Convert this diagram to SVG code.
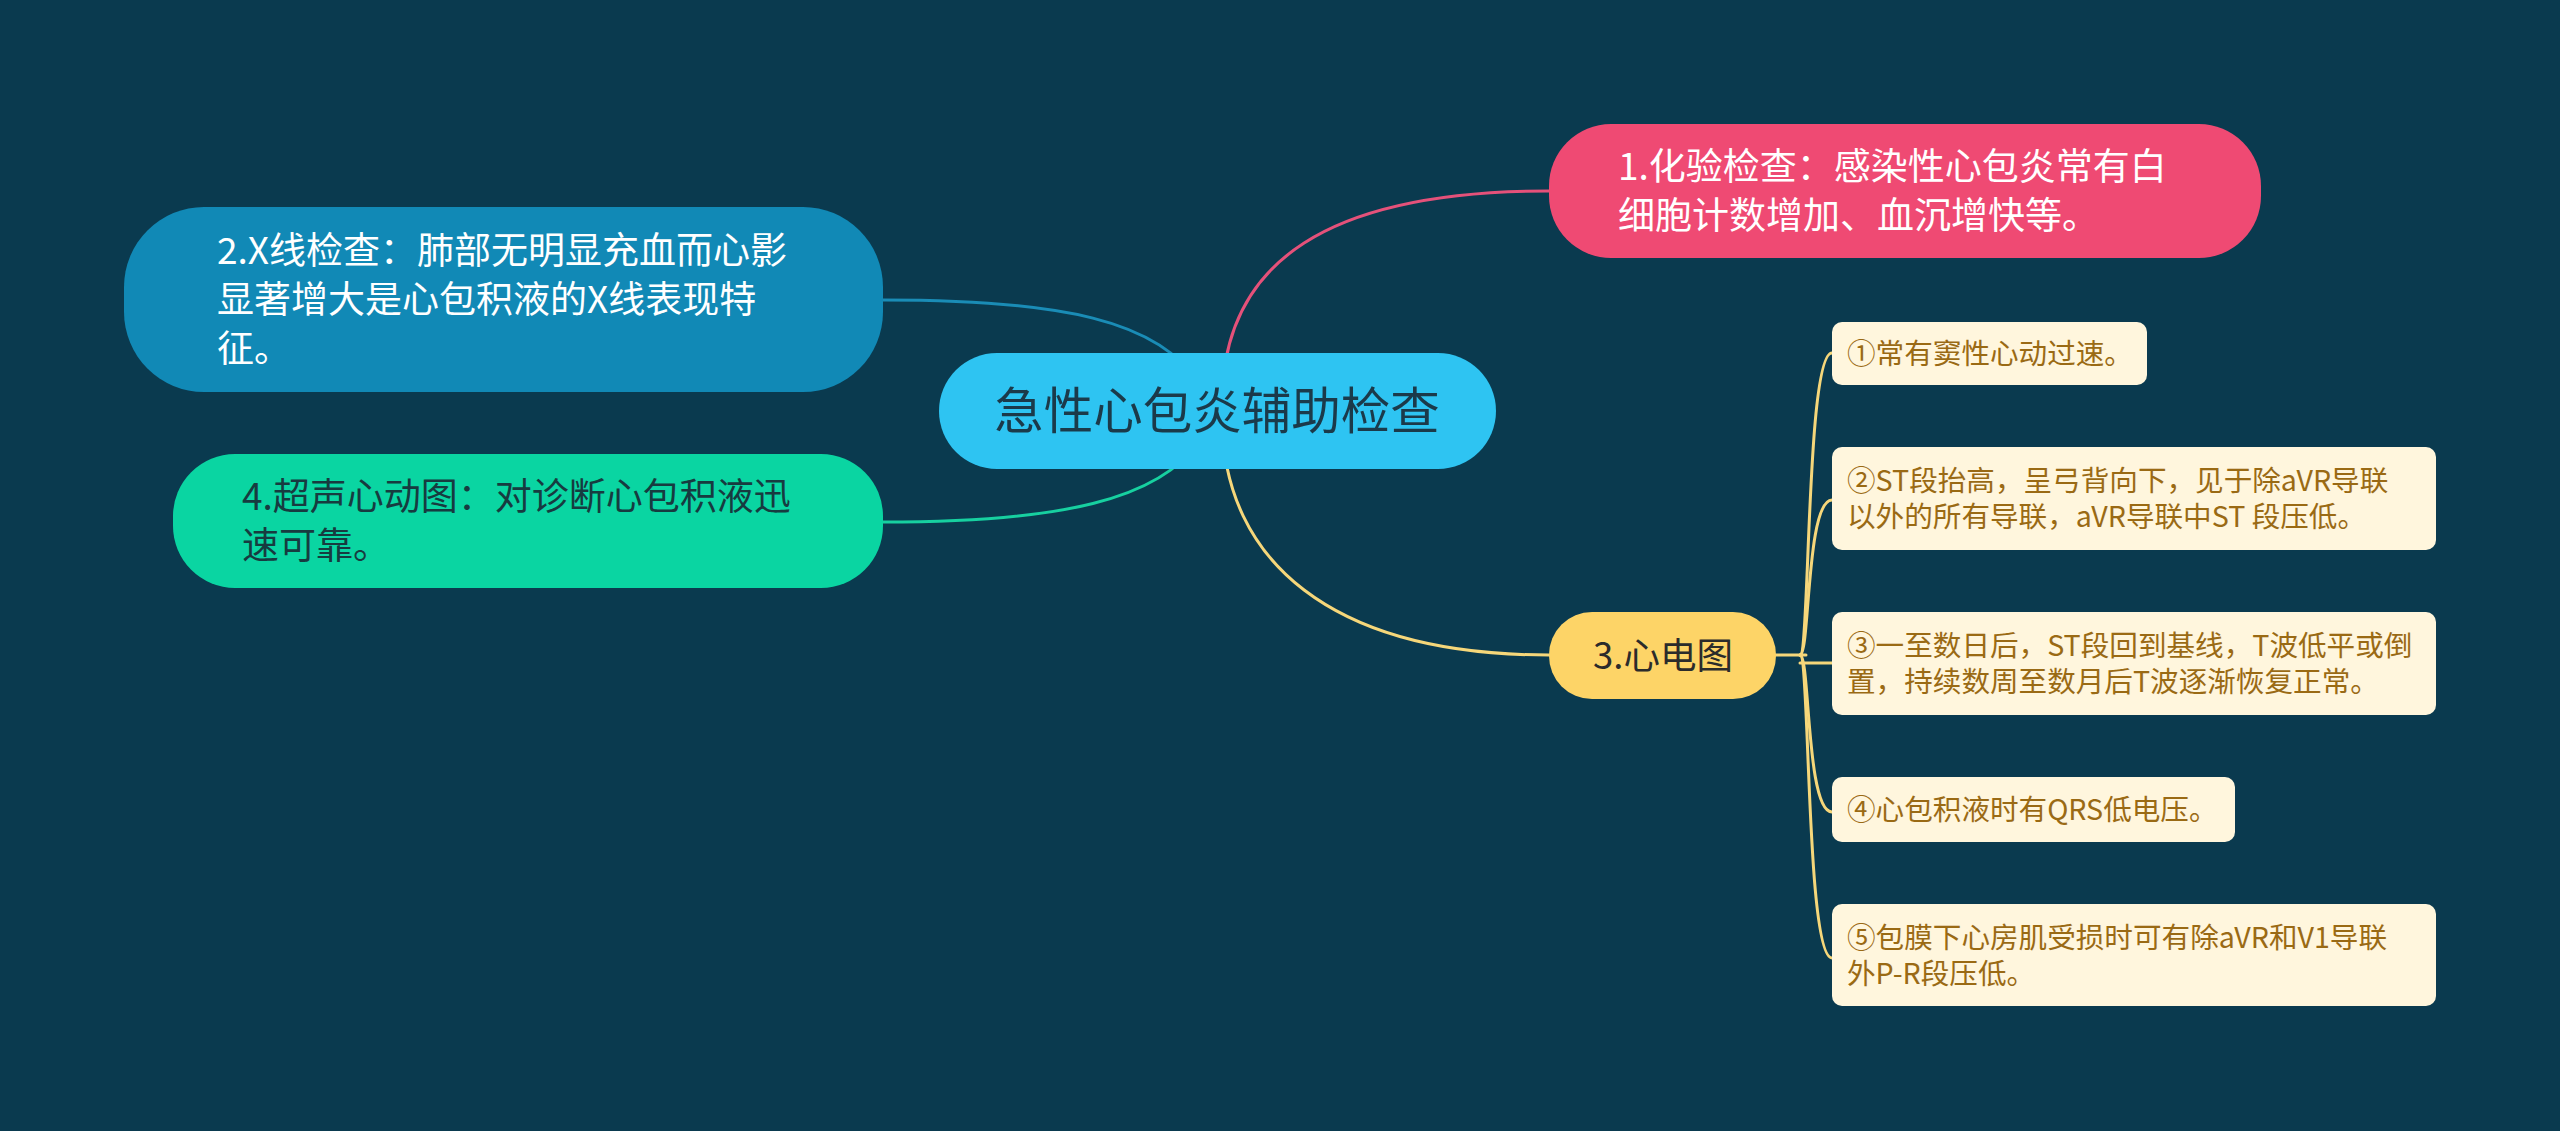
<svg xmlns="http://www.w3.org/2000/svg" width="2560" height="1131" viewBox="0 0 2560 1131">
<style>
text{font-family:"Noto Sans CJK SC","Noto Sans",sans-serif;}
.main{font-size:37px;}
.sub{font-size:28.6px;fill:#9a6a14;}
.subbox{fill:#fff6dd;}
.ln{fill:none;stroke-width:3;stroke-linecap:round;}
</style>
<rect width="2560" height="1131" fill="#0a3a4f"/>
<g id="connectors">
<path class="ln" stroke="#e5517a" d="M1222 400 C1224 260 1330 191 1549 191"/>
<path class="ln" stroke="#1a8cb6" d="M883 300 C1060 300 1160 320 1200 385"/>
<path class="ln" stroke="#17d0a0" d="M883 522 C1060 522 1160 500 1200 440"/>
<path class="ln" stroke="#f6d77a" d="M1222 420 C1224 560 1330 655 1549 655"/>
<g stroke="#f6d77a" class="ln">
<path d="M1776 655 L1806 655"/>
<path d="M1800 655 C1810 655 1806 353 1832 353"/>
<path d="M1800 655 C1810 655 1806 500 1832 500"/>
<path d="M1800 663 L1832 663"/>
<path d="M1800 655 C1810 655 1806 812 1832 812"/>
<path d="M1800 655 C1810 655 1806 958 1832 958"/>
</g>
</g>
<g id="center">
<rect x="939" y="353" width="557" height="116" rx="58" fill="#2ec4f2"/>
<text x="1217" y="429" font-size="49.5" fill="#1b3a4a" text-anchor="middle">急性心包炎辅助检查</text>
</g>
<g id="n1">
<rect x="1549" y="124" width="712" height="134" rx="62" fill="#ef4a73"/>
<text class="main" fill="#ffffff" x="1618" y="180">1.化验检查：感染性心包炎常有白</text>
<text class="main" fill="#ffffff" x="1618" y="229">细胞计数增加、血沉增快等。</text>
</g>
<g id="n2">
<rect x="124" y="207" width="759" height="185" rx="80" fill="#1189b6"/>
<text class="main" fill="#ffffff" x="217" y="264">2.X线检查：肺部无明显充血而心影</text>
<text class="main" fill="#ffffff" x="217" y="313">显著增大是心包积液的X线表现特</text>
<text class="main" fill="#ffffff" x="217" y="362">征。</text>
</g>
<g id="n4">
<rect x="173" y="454" width="710" height="134" rx="62" fill="#0ad5a2"/>
<text class="main" fill="#173b40" x="242" y="510">4.超声心动图：对诊断心包积液迅</text>
<text class="main" fill="#173b40" x="242" y="559">速可靠。</text>
</g>
<g id="n3">
<rect x="1549" y="612" width="227" height="87" rx="43" fill="#fdd467"/>
<text x="1663" y="669" font-size="36.5" fill="#2b2b2b" text-anchor="middle">3.心电图</text>
</g>
<g id="s1">
<rect class="subbox" x="1832" y="322" width="315" height="63" rx="10"/>
<text class="sub" x="1847" y="364">①常有窦性心动过速。</text>
</g>
<g id="s2">
<rect class="subbox" x="1832" y="447" width="604" height="103" rx="10"/>
<text class="sub" x="1847" y="491">②ST段抬高，呈弓背向下，见于除aVR导联</text>
<text class="sub" x="1847" y="527">以外的所有导联，aVR导联中ST 段压低。</text>
</g>
<g id="s3">
<rect class="subbox" x="1832" y="612" width="604" height="103" rx="10"/>
<text class="sub" x="1847" y="656">③一至数日后，ST段回到基线，T波低平或倒</text>
<text class="sub" x="1847" y="692">置，持续数周至数月后T波逐渐恢复正常。</text>
</g>
<g id="s4">
<rect class="subbox" x="1832" y="777" width="403" height="65" rx="10"/>
<text class="sub" x="1847" y="820">④心包积液时有QRS低电压。</text>
</g>
<g id="s5">
<rect class="subbox" x="1832" y="904" width="604" height="102" rx="10"/>
<text class="sub" x="1847" y="948">⑤包膜下心房肌受损时可有除aVR和V1导联</text>
<text class="sub" x="1847" y="984">外P-R段压低。</text>
</g>
</svg>
